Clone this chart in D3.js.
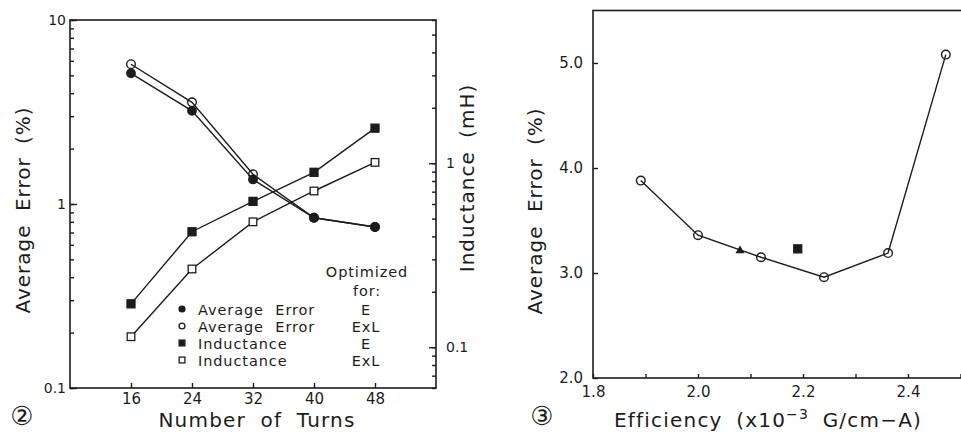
<!DOCTYPE html>
<html>
<head>
<meta charset="utf-8">
<script src="https://cdn.jsdelivr.net/npm/d3@7"></script>
<style>
    body { margin: 0; background: #ffffff; }
    svg text { font-family: "DejaVu Sans", "Noto Sans CJK JP", sans-serif; fill: #1c1c1c; }
</style>
</head>
<body>
<div id="chart"></div>
<script>
// Fig. 2 - number of turns vs error / inductance
const turns = [16, 24, 32, 40, 48];
const errorOptE = [5.13, 3.21, 1.36, 0.842, 0.75];
const errorOptExL = [5.75, 3.57, 1.45, 0.842, 0.75];
const inductOptE = [0.172, 0.424, 0.62, 0.892, 1.55];
const inductOptExL = [0.114, 0.266, 0.48, 0.706, 1.01];
const turnTicks = [16, 24, 32, 40, 48];
const errorMajorTicks = [0.1, 1, 10];
const inductMajorTicks = [0.1, 1];
const legendNames = ["Average Error", "Average Error", "Inductance", "Inductance"];
const legendFor = ["E", "ExL", "E", "ExL"];

// Fig. 3 - efficiency vs error
const efficiency = [1.891, 2.0, 2.12, 2.24, 2.362, 2.472];
const efficiencyError = [3.88, 3.36, 3.15, 2.96, 3.19, 5.08];
const trianglePoint = [2.08, 3.22];
const squarePoint = [2.19, 3.23];
const effTicks = [1.8, 1.9, 2.0, 2.1, 2.2, 2.3, 2.4, 2.5];
const effLabels = [1.8, 2.0, 2.2, 2.4];
const effErrorTicks = [2.0, 3.0, 4.0, 5.0];

const INK = "#1c1c1c";
const W = 961, H = 433;

const svg = d3.select("#chart").append("svg")
    .attr("width", W)
    .attr("height", H)
    .attr("viewBox", `0 0 ${W} ${H}`);

svg.append("rect").attr("width", W).attr("height", H).attr("fill", "#fff");

// small helper: style axis groups the same way
function styleAxis(g, size) {
    g.select(".domain").remove();
    g.selectAll("line").attr("stroke", INK).attr("stroke-width", 1.4);
    g.selectAll("text").style("font-size", size + "px").attr("fill", INK);
}

function marker(g, type, x, y, s) {
    if (type === "circleFilled" || type === "circleOpen") {
        g.append("circle").attr("cx", x).attr("cy", y).attr("r", s)
            .attr("fill", type === "circleFilled" ? INK : "#fff")
            .attr("fill-opacity", type === "circleFilled" ? 1 : 0)
            .attr("stroke", INK).attr("stroke-width", 1.4);
    } else if (type === "squareFilled" || type === "squareOpen") {
        g.append("rect").attr("x", x - s).attr("y", y - s)
            .attr("width", 2 * s).attr("height", 2 * s)
            .attr("fill", type === "squareFilled" ? INK : "#fff")
            .attr("stroke", INK).attr("stroke-width", 1.3);
    } else if (type === "triangle") {
        g.append("path")
            .attr("d", `M${x},${y - s}L${x + s},${y + s * 0.75}L${x - s},${y + s * 0.75}Z`)
            .attr("fill", INK);
    }
}

/**
 * Left panel (Fig. 2)
 */
function renderTurnsChart() {
    const m = { left: 70, right: 436, top: 20, bottom: 388 };
    const g = svg.append("g");

    const x = d3.scaleLinear().domain([8, 56]).range([m.left, m.right]);
    const yErr = d3.scaleLog().domain([0.1, 10]).range([m.bottom, m.top]);
    const yInd = d3.scaleLog().domain([0.06, 6]).range([m.bottom, m.top]);

    // frame
    g.append("rect")
        .attr("x", m.left).attr("y", m.top)
        .attr("width", m.right - m.left).attr("height", m.bottom - m.top)
        .attr("fill", "none").attr("stroke", INK).attr("stroke-width", 1.6);

    // left axis, minor + major ticks
    g.append("g").attr("transform", `translate(${m.left},0)`)
        .call(d3.axisLeft(yErr).tickValues(yErr.ticks()).tickSize(-4).tickFormat(""))
        .call(a => styleAxis(a, 14));
    g.append("g").attr("transform", `translate(${m.left},0)`)
        .call(d3.axisLeft(yErr).tickValues(errorMajorTicks).tickSize(-7).tickPadding(4).tickFormat(d3.format("")))
        .call(a => styleAxis(a, 14));

    // right axis
    g.append("g").attr("transform", `translate(${m.right},0)`)
        .call(d3.axisRight(yInd).tickValues(yInd.ticks()).tickSize(-4).tickFormat(""))
        .call(a => styleAxis(a, 14));
    g.append("g").attr("transform", `translate(${m.right},0)`)
        .call(d3.axisRight(yInd).tickValues(inductMajorTicks).tickSize(-7).tickPadding(10).tickFormat(d3.format("")))
        .call(a => styleAxis(a, 14));

    // bottom axis
    g.append("g").attr("transform", `translate(0,${m.bottom})`)
        .call(d3.axisBottom(x).tickValues(turnTicks).tickSize(-5).tickPadding(5))
        .call(a => styleAxis(a, 15));

    // lines
    const lineErr = d3.line().x((d, i) => x(turns[i])).y(d => yErr(d));
    const lineInd = d3.line().x((d, i) => x(turns[i])).y(d => yInd(d));
    [[errorOptExL, lineErr], [errorOptE, lineErr], [inductOptE, lineInd], [inductOptExL, lineInd]]
        .forEach(([data, line]) => {
            g.append("path").datum(data).attr("d", line)
                .attr("fill", "none").attr("stroke", INK).attr("stroke-width", 1.4);
        });

    errorOptExL.forEach((v, i) => marker(g, "circleOpen", x(turns[i]), yErr(v), 4.3));
    errorOptE.forEach((v, i) => marker(g, "circleFilled", x(turns[i]), yErr(v), 4.2));
    inductOptE.forEach((v, i) => marker(g, "squareFilled", x(turns[i]), yInd(v), 4));
    inductOptExL.forEach((v, i) => marker(g, "squareOpen", x(turns[i]), yInd(v), 3.8));

    // legend
    const lg = g.append("g").style("font-size", "14.5px").style("letter-spacing", "0.9px");
    lg.append("text").attr("x", 367).attr("y", 277).attr("text-anchor", "middle").text("Optimized");
    lg.append("text").attr("x", 367).attr("y", 296).attr("text-anchor", "middle").text("for:");
    const types = ["circleFilled", "circleOpen", "squareFilled", "squareOpen"];
    legendNames.forEach((name, i) => {
        const yy = 309 + i * 17;
        marker(lg, types[i], 182, yy, 2.9);
        lg.append("text").attr("x", 198).attr("y", yy + 5.5).style("word-spacing", "6px").text(name);
        lg.append("text").attr("x", 366).attr("y", yy + 5.5).attr("text-anchor", "middle").text(legendFor[i]);
    });

    // titles
    g.append("text").attr("x", 257).attr("y", 427).attr("text-anchor", "middle")
        .style("font-size", "20px").style("letter-spacing", "1.2px").style("word-spacing", "7px")
        .text("Number of Turns");
    g.append("text").attr("transform", "translate(30,210) rotate(-90)").attr("text-anchor", "middle")
        .style("font-size", "20px").style("letter-spacing", "1px").style("word-spacing", "6px")
        .text("Average Error (%)");
    g.append("text").attr("transform", "translate(474,178) rotate(-90)").attr("text-anchor", "middle")
        .style("font-size", "20px").style("letter-spacing", "1px").style("word-spacing", "6px")
        .text("Inductance (mH)");
    g.append("text").attr("x", 22).attr("y", 425).attr("text-anchor", "middle")
        .style("font-size", "26px").text("\u2461");
}

/**
 * Right panel (Fig. 3)
 */
function renderEfficiencyChart() {
    const m = { left: 593, right: 960.5, top: 10.5, bottom: 378 };
    const g = svg.append("g");

    const x = d3.scaleLinear().domain([1.8, 2.5]).range([m.left, m.right]);
    const y = d3.scaleLinear().domain([2, 5.5]).range([m.bottom, m.top]);

    g.append("rect")
        .attr("x", m.left).attr("y", m.top)
        .attr("width", m.right - m.left + 10).attr("height", m.bottom - m.top)
        .attr("fill", "none").attr("stroke", INK).attr("stroke-width", 1.6);

    g.append("g").attr("transform", `translate(${m.left},0)`)
        .call(d3.axisLeft(y).tickValues(effErrorTicks).tickSize(-5).tickPadding(10).tickFormat(d3.format(".1f")))
        .call(a => styleAxis(a, 15));

    g.append("g").attr("transform", `translate(0,${m.bottom})`)
        .call(d3.axisBottom(x).tickValues(effTicks).tickSize(-4).tickFormat(""))
        .call(a => styleAxis(a, 15));
    g.append("g").attr("transform", `translate(0,${m.bottom})`)
        .call(d3.axisBottom(x).tickValues(effLabels).tickSize(0).tickPadding(8).tickFormat(d3.format(".1f")))
        .call(a => styleAxis(a, 15));

    const line = d3.line().x((d, i) => x(efficiency[i])).y(d => y(d));
    g.append("path").datum(efficiencyError).attr("d", line)
        .attr("fill", "none").attr("stroke", INK).attr("stroke-width", 1.4);

    efficiencyError.forEach((v, i) => marker(g, "circleOpen", x(efficiency[i]), y(v), 4.3));
    marker(g, "triangle", x(trianglePoint[0]), y(trianglePoint[1]), 4.5);
    marker(g, "squareFilled", x(squarePoint[0]), y(squarePoint[1]), 4);

    const title = g.append("text").attr("x", 768).attr("y", 427).attr("text-anchor", "middle")
        .style("font-size", "20px").style("letter-spacing", "1.2px").style("word-spacing", "6px");
    title.append("tspan").text("Efficiency  (x10");
    title.append("tspan").attr("dy", -8).style("font-size", "14px").text("\u22123");
    title.append("tspan").attr("dy", 8).text("  G/cm\u2212A)");

    g.append("text").attr("transform", "translate(542,211) rotate(-90)").attr("text-anchor", "middle")
        .style("font-size", "20px").style("letter-spacing", "1px").style("word-spacing", "6px")
        .text("Average Error (%)");
    g.append("text").attr("x", 542).attr("y", 425).attr("text-anchor", "middle")
        .style("font-size", "26px").text("\u2462");
}

renderTurnsChart();
renderEfficiencyChart();
</script>
</body>
</html>
